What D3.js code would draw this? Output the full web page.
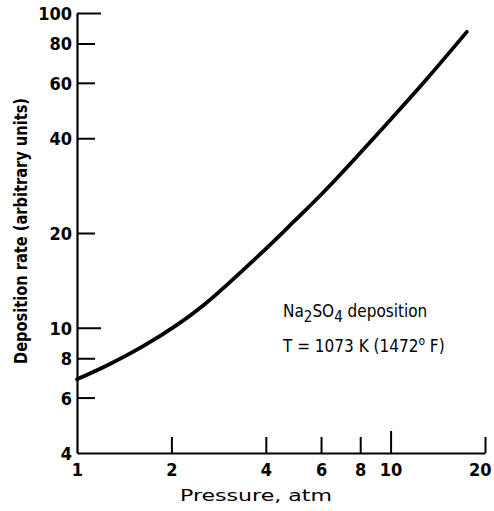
<!DOCTYPE html>
<html>
<head>
<meta charset="utf-8">
<script src="https://cdn.jsdelivr.net/npm/d3@7"></script>
<style>
  body { margin: 0; background: #fff; }
  svg { display: block; }
  .tick text { font-family: "DejaVu Sans", sans-serif; font-stretch: condensed; font-weight: bold; font-size: 18px; fill: #000; }
  .note { font-family: "DejaVu Sans", sans-serif; font-stretch: condensed; font-size: 17px; fill: #000; }
</style>
</head>
<body>
<svg id="chart" width="494" height="511"></svg>
<script>
// curve (pressure in atm, deposition rate arbitrary units)
const pressure = [1, 1.26, 1.61, 2.05, 2.56, 3.83, 4.88, 6.25, 10.1, 13.0, 17.5];
const rate = [6.86, 7.63, 8.69, 10.1, 11.9, 17.1, 21.6, 27.6, 46.4, 61.5, 87.1];

const xTicks = [1, 2, 4, 6, 8, 10, 20];
const yTicks = [4, 6, 8, 10, 20, 40, 60, 80, 100];

const margin = {top: 13, right: 9, left: 77, bottom: 58}
const width = 494 - margin.left - margin.right;
const height = 511 - margin.top - margin.bottom;

const svg = d3.select("#chart")
const g = svg.append("g").attr("transform", `translate(${margin.left},${margin.top})`)

const xScale = d3.scaleLog().domain([1, 20]).range([0, width])
const yScale = d3.scaleLog().domain([4, 100]).range([height, 0])

// y axis, ticks pointing into the plot
const yAxis = d3.axisLeft(yScale)
    .tickValues(yTicks)
    .tickFormat(d3.format("d"))
    .tickSize(-18)
    .tickSizeOuter(0)
    .tickPadding(5)

const yg = g.append("g").call(yAxis)
yg.selectAll(".tick line")
    .attr("x2", d => (d === 10 || d === 100) ? 24 : (d === 4 ? 0 : 18))
yg.selectAll(".tick text").attr("dy", "0.36em")

// x axis, ticks pointing up
const xAxis = d3.axisBottom(xScale)
    .tickValues(xTicks)
    .tickFormat(d3.format("d"))
    .tickSize(-16)
    .tickSizeOuter(0)
    .tickPadding(10)

const xg = g.append("g").attr("transform", `translate(0,${height})`).call(xAxis)
xg.selectAll(".tick line")
    .attr("y2", d => d === 10 ? -22 : (d === 1 ? 0 : -16))
xg.selectAll(".tick text")
    .attr("text-anchor", d => d === 20 ? "end" : "middle")
    .attr("dx", d => d === 20 ? 6 : 0)

g.selectAll(".domain").attr("stroke", "#000").attr("stroke-width", 2.2)
g.selectAll(".tick line").attr("stroke", "#000").attr("stroke-width", 2)

// the curve
const line = d3.line()
    .x((d, i) => xScale(pressure[i]))
    .y((d, i) => yScale(rate[i]))
    .curve(d3.curveCatmullRom.alpha(0.5))

g.append("path")
    .attr("d", line(pressure))
    .attr("fill", "none")
    .attr("stroke", "#000")
    .attr("stroke-width", 3.8)
    .attr("stroke-linecap", "round")

// axis titles
svg.append("text")
    .attr("x", 256)
    .attr("y", 501)
    .attr("text-anchor", "middle")
    .attr("textLength", 152)
    .attr("lengthAdjust", "spacingAndGlyphs")
    .style("font-family", "'DejaVu Sans', sans-serif")
    .style("font-size", "16px")
    .text("Pressure, atm")

svg.append("text")
    .attr("transform", "translate(27,231) rotate(-90)")
    .attr("text-anchor", "middle")
    .attr("textLength", 266)
    .attr("lengthAdjust", "spacingAndGlyphs")
    .style("font-family", "'DejaVu Sans', sans-serif")
    .style("font-stretch", "condensed")
    .style("font-weight", "bold")
    .style("font-size", "17px")
    .text("Deposition rate (arbitrary units)")

// annotation
const n1 = svg.append("text").attr("class", "note").attr("x", 283).attr("y", 317)
n1.append("tspan").text("Na")
n1.append("tspan").attr("dy", 5).style("font-size", "15px").text("2")
n1.append("tspan").attr("dy", -5).text("SO")
n1.append("tspan").attr("dy", 5).style("font-size", "15px").text("4")
n1.append("tspan").attr("dy", -5).text(" deposition")

const n2 = svg.append("text").attr("class", "note").attr("x", 283).attr("y", 352)
n2.append("tspan").text("T = 1073 K (1472")
n2.append("tspan").attr("dy", -7).style("font-size", "12px").text("o")
n2.append("tspan").attr("dy", 7).text(" F)")
</script>
</body>
</html>
